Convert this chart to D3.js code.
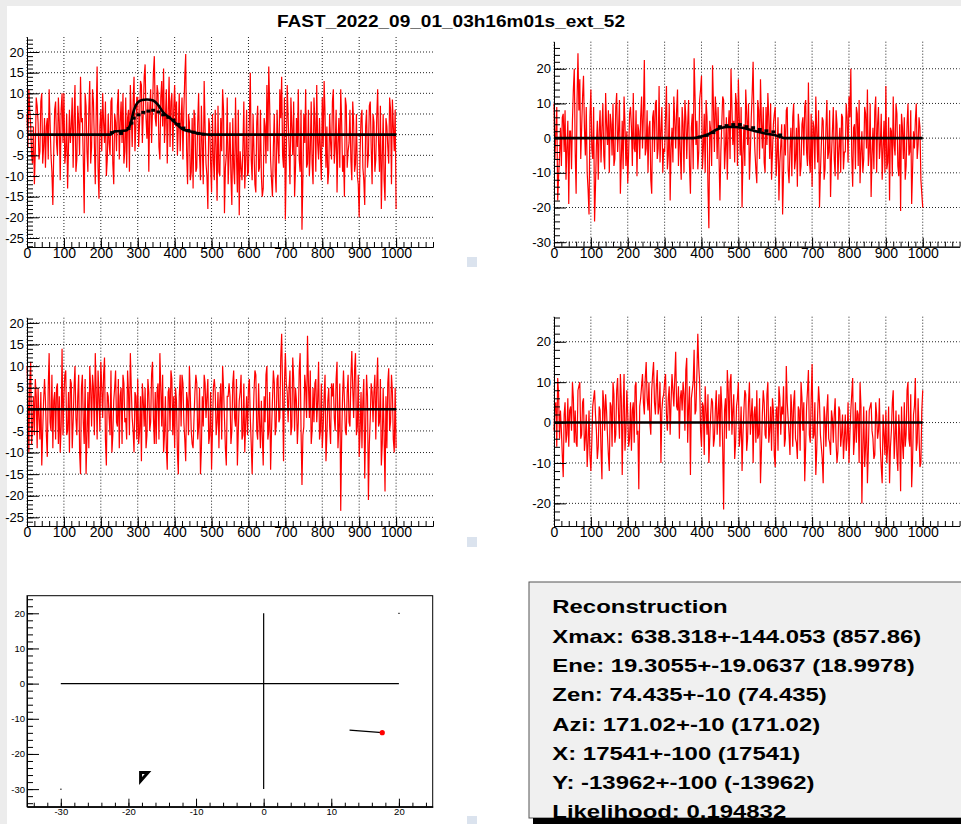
<!DOCTYPE html>
<html>
<head>
<meta charset="utf-8">
<script src="https://cdn.jsdelivr.net/npm/d3@7"></script>
<style>
  body { margin: 0; background: #fff; }
  svg { display: block; font-family: "Liberation Sans", Arial, sans-serif; }
  .grid { stroke: #222; stroke-width: 1; stroke-dasharray: 1,2; }
</style>
</head>
<body>
<div id="chart"></div>
<script>
// ---- data ----
const title = "FAST_2022_09_01_03h16m01s_ext_52";
const sampleStep = 2.5; // ns between samples once the two halves are interleaved
const xRange = [0, 1100];
const xTicks = [0, 100, 200, 300, 400, 500, 600, 700, 800, 900, 1000];

// channel traces (red): samples at 0,5,10..1000 ns
const wave1 = [
  5, 11, 2, -7, -12, 9, 3, -4, 10, -3,
  -8, 4, 11, -5, -17, 6, -2, 9, -11, 10,
  10, -4, -13, 6, 2, -8, 12, -6, 3, 14,
  4, -19, 7, -9, 13, -3, 8, -12, 16.5, -15.5,
  6, 10, -2, -10, 5, -5, 9, -12, 3, 7,
  -6, 8, 10, -4, -8, 6, 12, -3, 14, 2,
  9, 3, 12, 5, 17, -1, -9, 11, 6, 19,
  2, 10, -6, 13, 16, 4, -7, 14, 8, -4,
  12, 8, 2, -4, 9, 6, 19.5, -12, 3, -9,
  -13, 4, -8, 10, -11, -3, 13, -7, -18, 2,
  -14, -6, 6, -16, -9, 4, 11, -19, -5, -12,
  3, -17, -8, 9, -14, -19.5, -8, -3, -13, 6,
  -9, 15, -11, -4, -14, 7, -8, -10, -13, 2,
  12, 16.5, -6, -15, 5, -14, -2, 11, 14, -8,
  -20.5, 12, -3, 9, -5, -15, 4, 11, -9, -23,
  5, 11, -7, -10, 8, -12, 3, 12, -6, -4,
  9, 13, -8, -12, 5, -6, 11, -3, -14, 4,
  11, -9, -15, 7, -4, 6, -11, 3, -7, -10,
  -20, 4, -8, -17, 6, -5, 8, -12, 3, -6,
  11, -9, -18, 5, -16, 2, -7, 6, 8.5, -4,
  -18
];
// samples at 2.5,7.5..997.5 ns
const wave1Mid = [
  -3, 6, -5, 2, -4, 7, -6, 8, -7, 4,
  2, -6, 3, -9, -4, 8, -5, 3, 6, -2,
  -7, 5, -3, -2, 9, 4, -9, 7, -5, 3,
  -6, 10, -4, 6, -7, 11, -2, 5, -8, 2,
  -4, 3, 8, -6, -2, 8, -7, 5, -4, 11,
  3, -2, -7, 9, 4, -9, 5, 8, -4, 9,
  -3, 13, -2, 14, 4, 8, 6, -2, 15, 4,
  12, -3, 9, 2, -2, 11, 5, -3, 10, 6,
  2, -5, 10, 3, -6, 14, -4, 5, -11, 4,
  6, -9, 3, -5, 7, -12, 2, -10, 4, -7,
  5, -11, -3, 7, -10, -4, 6, -8, 9, -5,
  -10, 4, -12, -5, 6, -4, -11, 8, -6, -10,
  4, -6, 5, -12, 3, -9, 6, -15, 4, -7,
  -4, 7, -11, -3, -9, 6, -7, 4, -5, 9,
  -6, 4, -12, 2, 8, -8, -3, -6, 6, -10,
  -2, -8, 6, -4, -7, 9, -9, -2, 4, -11,
  -3, 5, 2, -9, -2, 8, -7, 6, -2, -8,
  3, -5, 9, -8, -2, -6, 8, -9, 5, -12,
  -4, 6, -11, 2, -8, 7, -3, 5, -9, 4,
  -2, 7, -6, -11, 4, -3, 9, -12, 2, 6
];
const wave2 = [
  10, 2, -18, -5, -8, 7, 8, -3, -19, 2,
  5, 20, -16, 24.5, 17, 3, 18, -5, -10, -22,
  14, -6, -24, -2, -12, 8, 3, -5, 13, -2,
  -10, 4, 10, -6, 13, 2, -16, 5, 12, -8,
  -13, 7, 3, 13, -4, -11, 2, 6, -3, 22.5,
  -3, -10, 5, -16, 8, 10, -6, 15, 2, -10,
  -4, 15, -5, -18, 3, 12, -3, 14, 6, -12,
  4, 11, -6, 11, -16, 7, 23, -2, -9, 11,
  18, -3, -10, 6, -26, 2, 21, -4, 7, 9,
  -18, 4, 11, -3, -12, 8, 20, -2, -7, 10,
  17, -5, -20, 4, 14, -2, -12, 6, 22, -4,
  -13, 8, 17, -3, -7, 9, 13, -6, -12, 4,
  9, -5, -18, -2, -22, 4, 8, -9, -3, -11,
  10, -6, -14, 3, -8, 6, 9, -4, 16, -10,
  -14, 3, 12, -7, -20, -2, 5, -9, 11, -4,
  -17, 2, -6, 8, -12, 3, 7, -9, -4, 6,
  12, 20, -14, 4, 9, -8, -13, 2, -6, 7,
  14, -4, -17, 3, 8, -10, 9, -2, -12, 5,
  15, -7, -18, 2, 12, -5, 7, -11, -21, 3,
  6, -8, 10, -4, -19, 2, 5, -6, 6, -12,
  -20
];
const wave2Mid = [
  -6, 9, -11, 3, 6, -4, -12, 5, 2, -9,
  14, -4, 11, 8, -6, 12, 3, 9, -15, 6,
  -3, 9, -14, 5, 2, -7, 10, -9, 4, 8,
  7, -5, -8, 9, -4, 11, -6, -9, 4, 2,
  -4, 9, -8, -3, 8, 4, -6, 12, 7, -5,
  8, 3, -12, 6, -4, 11, -3, -7, 9, -3,
  6, -9, 10, -3, -7, 5, 8, -8, -4, 9,
  -10, 6, 4, -8, 3, -9, 12, 5, -4, 14,
  -9, 7, 11, -14, 5, -8, 9, 12, -6, -5,
  -4, 12, -9, 6, 3, -6, 9, 5, 13, -8,
  6, 9, -5, -8, 7, 10, -4, 13, 3, -9,
  11, -6, 5, 9, -10, -2, 6, 10, -4, 7,
  -11, 6, -7, 4, -10, -5, 9, -13, 3, 6,
  -9, 3, 7, -11, 4, -5, 11, -8, -6, 7,
  5, -9, 2, 8, -10, 6, -12, 3, -6, 8,
  -5, 9, -11, 4, -3, -10, 6, -4, 10, -7,
  6, -5, 3, -9, 7, 11, -4, -10, 9, -3,
  -8, 10, -5, -9, 12, 4, -6, 7, -3, -10,
  -9, 6, 3, -11, -2, 10, -8, 4, 7, -6,
  -12, 4, -5, 8, -9, -3, 10, -2, 3, -16
];
const wave3 = [
  10, -10, 11, -4, -6, 3, 5, -7, -13, 2,
  2, -11, 13, -5, -9, 4, 5, -8, -10, 14,
  3, 9, -5, -10, 6, -3, 10, -6, 8, -15,
  8, -8, -15, 4, 10, -4, 5, 13, -7, 3,
  11, -2, 12, -13, 3, -6, -10, 2, 9, -4,
  -9, 5, 8, -3, -7, 4, 13, -2, -10, 3,
  7, -5, -12, 2, 5, -6, 4, -3, 11, -8,
  -8, 6, 13, -4, -10, 3, -14, 5, 9, -6,
  -9, 2, -15, 8, 8, -3, -12, 2, 10, -5,
  -9, 4, 6, -4, -15, 3, 8, -2, 7, -6,
  -14, 5, 4, -3, -9, 6, 10, -2, -13, 3,
  3, -5, 9, -4, -13, 2, 8, -6, -10, 3,
  5, -2, -15, 4, 8, -7, -3, 2, -13, -3,
  10, -5, -14, 2, 6, -4, 8, -2, 17.5, -12,
  13, 4, 5, -6, 12, -5, 2, -3, 13, -17.5,
  -4, 5, 17, -2, -8, 5, 6, -3, 11, -5,
  -9, 3, -12, 2, -4, 6, 6, -5, 11, -4,
  -23.5, 3, 2, -6, 8, -4, 13.5, -2, 13, -4,
  -11, 4, 2, -16, 8, -21, -2, 4, 4, -7,
  12, -3, -13, 5, -19, -9, 9.5, -3, 4, -10,
  -9
];
const wave3Mid = [
  4, 6, -8, 3, 7, -9, -2, 4, -5, 7,
  -6, 5, -3, 8, 2, -7, 6, 3, -4, -6,
  8, -6, 4, 7, -9, 5, -2, 3, -10, 5,
  -3, 7, -6, -9, 5, 8, -6, 4, 9, -5,
  5, 8, -7, 4, -2, 9, -6, 5, -3, 7,
  3, -8, 6, -2, 9, -6, 5, -5, 4, -7,
  -8, 3, 6, -4, -9, 7, -5, 8, -2, 4,
  4, -7, 5, 8, -6, -9, 4, -5, 7, 3,
  5, -10, 3, -4, 6, -7, 4, -6, 3, -8,
  -2, 8, -7, 5, -9, -4, 6, 3, -8, 4,
  -5, 7, -6, 4, 2, -7, 5, -9, 3, 6,
  -8, 6, -2, 7, -5, 4, -7, 6, -3, -6,
  7, -8, -4, 9, -5, 6, -9, -6, 3, 8,
  -7, 4, -5, 9, -6, 7, -3, 12, 4, 6,
  6, -3, 9, -4, 7, 5, -8, 9, -5, -6,
  8, -2, 6, 9, -5, -3, 7, 2, -7, 6,
  -4, 8, -6, 5, -8, 3, -2, 7, -9, 6,
  -7, 9, -5, 4, -3, 7, 5, 9, -6, 8,
  -5, -9, 7, -4, 3, -8, 6, -3, 8, 5,
  -4, 7, -8, -6, 3, 6, -5, 8, -7, 5
];
const wave4 = [
  -2, 5, 11, -4, -2, -13.5, 5, -3, -6, 4,
  10, -5, -5, 8, 10, -3, 6, -4, -11, 3,
  -12, 4, 8, -2, -6, 3, -14, 5, 7, -3,
  -12, 4, 10, -5, 8, 2, 12, -13, 12, -2,
  2, -4, -7, 5, 9, -3, -16.5, 6, 12, 2,
  15, 3, 0, 8, 15, 2, 13, 4, -10, 6,
  10, 2, 6, -3, 12, 4, 17.5, 3, -4, 8,
  10, -2, 16, 4, -13, 8, 18, 3, 22, 10,
  -6, 4, 9, -3, -10, 2, 5, -4, 8, 2,
  -6, 4, -21.5, 6, 13, -2, 12, 3, -9, 4,
  10, -3, -12, 3, 7, -4, 10, 2, -10, 4,
  8, -3, -15, 2, 5, -4, 10, -2, -7, 3,
  -11, 4, 9, -3, 2, -6, 14, 1, -8, 3,
  5, -4, -9, 3, 10, -2, -14.5, 4, 13, -5,
  14.5, -3, -13, 2, 5, -6, -15, 1, 3, -4,
  -8, 1, 2, -5, -7, 3, -3, -9, 2, -4,
  -10, 3, 11, -4, -5, 2, 10, -20, 4, -6,
  -15, 3, 5, -4, -8, 2, -2, -6, -15, -3,
  3, -6, -15, -2, 8, -4, -8, 2, -17, -5,
  5, -3, 10, -6, -16, 2, 11, -5, -3, -10,
  8
];
const wave4Mid = [
  4, -6, 7, 3, -8, 2, -5, 6, 3, -2,
  6, 3, -6, 9, -4, 5, -7, 2, -5, -8,
  -5, 6, 2, -9, 4, -7, 8, -2, 3, -8,
  5, -6, 7, -3, 11, -4, 6, 3, -7, 8,
  -6, 5, 3, -5, 10, -2, 4, 9, 5, 11,
  6, 10, -3, 12, 5, 9, 2, 10, 3, 7,
  12, -2, 9, 5, 8, 11, 4, 9, 6, 3,
  7, 13, -5, 9, 6, 10, 2, 12, 14, -2,
  5, -8, 3, 7, -4, 6, -6, 3, -3, 7,
  9, -6, 3, -4, 8, 10, -3, 7, -5, 6,
  -6, 4, -3, 8, -7, 5, -3, 6, 2, -5,
  -4, 6, -7, 8, -3, 7, -5, 4, 6, -8,
  3, -7, 6, 4, 9, -4, 5, -3, 7, -6,
  8, -5, 4, -7, 6, 5, -6, 8, -3, 6,
  -4, 5, -7, 9, -3, -9, 4, -6, 7, -5,
  3, -5, 6, -10, 4, -6, 2, -4, -7, 5,
  -3, 7, -8, 5, 3, -10, 4, -6, -11, 3,
  -7, 4, -2, -9, 5, -4, 6, -11, 2, -8,
  -10, 4, -6, 5, -9, 3, -12, -3, 4, -9,
  -6, 8, -4, 7, -9, 4, -7, 6, -11, 3
];

// fitted pulses (black line) and expected-signal markers
const fit1 = [[0, 0], [225, 0], [238, 0.8], [268, 1], [280, 2.5], [290, 6], [300, 7.8], [312, 8.4],
  [325, 8.5], [340, 8.3], [355, 7.2], [370, 5.3], [385, 4.2], [400, 3], [420, 1.4], [440, 0.8],
  [460, 0.4], [480, 0.1], [495, 0], [1000, 0]];
const fitPts1 = [[230, 0.5], [255, 0.3], [275, 1.5], [283, 2.8], [289, 4], [302, 4.8], [315, 5.4],
  [329, 5.7], [342, 5.9], [356, 5.5], [369, 4.8], [383, 4.2], [397, 3.5], [410, 2.5], [424, 1.6],
  [437, 1], [451, 0.6], [464, 0.3], [478, 0.1]];
const fit2 = [[0, 0], [375, 0], [400, 0.5], [420, 1.2], [440, 2.4], [455, 3], [470, 3.2], [490, 3.2],
  [510, 3], [530, 2.5], [550, 1.9], [575, 1.3], [600, 0.8], [615, 0.3], [625, 0], [1000, 0]];
const fitPts2 = [[396, 0.3], [414, 0.8], [432, 1.6], [450, 3.3], [468, 3.6], [486, 3.9], [504, 3.9],
  [522, 3.3], [540, 3], [558, 2.5], [576, 2.1], [595, 1.8], [613, 0.9]];
const fit3 = [[0, 0], [1000, 0]];
const fit4 = [[0, 0], [1000, 0]];

// y ranges of the four waveform pads
const yRanges = [[-27.18, 23.63], [-31.3, 27.8], [-27, 21.2], [-25.6, 26.2]];
const yMajorStep = [5, 10, 5, 10];
const yMinorStep = [1, 2, 1, 2];

// footprint map (km)
const mapRange = [-35, 25];
const mapTicks = [-30, -20, -10, 0, 10, 20];
const crossLines = [[[-30, 0], [20, 0]], [[0, 20], [0, -30]]];
const cornerPts = [[20, 20], [-30, -30]];
const trackLine = [[12.7, -13.2], [17.541, -13.962]];
const corePt = [17.541, -13.962];
const stationTri = [[-18.2, -25.3], [-17.1, -25.3], [-18.2, -27.7]];

const recoLines = [
  "Reconstruction",
  "Xmax: 638.318+-144.053 (857.86)",
  "Ene: 19.3055+-19.0637 (18.9978)",
  "Zen: 74.435+-10 (74.435)",
  "Azi: 171.02+-10 (171.02)",
  "X: 17541+-100 (17541)",
  "Y: -13962+-100 (-13962)",
  "Likelihood: 0.194832"
];

// put the on-grid and half-step samples back in time order
function interleave(a, b) {
  return d3.merge(a.map((v, j) => (j < b.length ? [v, b[j]] : [v])));
}
const waves = [interleave(wave1, wave1Mid), interleave(wave2, wave2Mid),
  interleave(wave3, wave3Mid), interleave(wave4, wave4Mid)];
const fits = [fit1, fit2, fit3, fit4];
const fitPts = [fitPts1, fitPts2, [], []];

// ---- layout ----
const W = 961, H = 824;
const pads = [
  { left: 27, right: 433, top: 37, bottom: 247 },
  { left: 554, right: 959.6, top: 41.7, bottom: 246.7 },
  { left: 27, right: 433, top: 317.7, bottom: 526 },
  { left: 554, right: 959.6, top: 316.7, bottom: 526 }
];

const svg = d3.select("#chart").append("svg").attr("width", W).attr("height", H);
svg.append("rect").attr("width", W).attr("height", H).attr("fill", "#fff");
svg.append("rect").attr("width", W).attr("height", 6).attr("fill", "#ececec");
svg.append("rect").attr("width", 7).attr("height", H).attr("fill", "#ececec");

svg.append("text")
  .attr("transform", "translate(451,27) scale(1.12,1)")
  .attr("text-anchor", "middle")
  .attr("font-weight", "bold")
  .attr("font-size", 17)
  .attr("fill", "#000")
  .text(title);

function styleAxis(sel, size) {
  sel.attr("font-family", null).attr("font-size", null);
  sel.selectAll("path, line").attr("stroke", "#000").attr("stroke-width", 1);
  sel.selectAll("text").attr("fill", "#000").style("font-size", size + "px");
}

function drawWave(i) {
  const p = pads[i];
  const x = d3.scaleLinear().domain(xRange).range([p.left, p.right]);
  const y = d3.scaleLinear().domain(yRanges[i]).range([p.bottom, p.top]);
  const g = svg.append("g");
  const [y0, y1] = yRanges[i];
  const yMaj = d3.range(Math.ceil(y0 / yMajorStep[i]) * yMajorStep[i], y1, yMajorStep[i]);
  const yMin = d3.range(Math.ceil(y0 / yMinorStep[i]) * yMinorStep[i], y1, yMinorStep[i]);
  const xMin = d3.range(0, xRange[1] + 1, 20);

  // grid
  g.selectAll(null).data(xTicks).enter().append("line").attr("class", "grid")
    .attr("x1", d => x(d)).attr("x2", d => x(d)).attr("y1", p.top).attr("y2", p.bottom);
  g.selectAll(null).data(yMaj).enter().append("line").attr("class", "grid")
    .attr("x1", p.left).attr("x2", p.right).attr("y1", d => y(d)).attr("y2", d => y(d));

  // trace
  const line = d3.line().x((d, j) => x(j * sampleStep)).y(d => y(d));
  g.append("path").datum(waves[i]).attr("d", line)
    .attr("fill", "none").attr("stroke", "#ff0000").attr("stroke-width", 1.2);

  // fit
  const fl = d3.line().x(d => x(d[0])).y(d => y(d[1])).curve(d3.curveMonotoneX);
  g.append("path").datum(fits[i]).attr("d", fl)
    .attr("fill", "none").attr("stroke", "#000").attr("stroke-width", 2.6);
  g.selectAll(null).data(fitPts[i]).enter().append("rect")
    .attr("x", d => x(d[0]) - 2).attr("y", d => y(d[1]) - 1.5)
    .attr("width", 4).attr("height", 3).attr("fill", "#000");

  // axes
  const fmt = d => String(d);
  g.append("g").attr("transform", `translate(${p.left},0)`)
    .call(d3.axisLeft(y).tickValues(yMin).tickSize(-6).tickSizeOuter(0).tickFormat(""))
    .call(styleAxis, 13);
  g.append("g").attr("transform", `translate(${p.left},0)`)
    .call(d3.axisLeft(y).tickValues(yMaj).tickSize(-12).tickSizeOuter(0).tickPadding(3).tickFormat(fmt))
    .call(styleAxis, 13);
  g.append("g").attr("transform", `translate(0,${p.bottom})`)
    .call(d3.axisBottom(x).tickValues(xMin).tickSize(-5).tickSizeOuter(0).tickFormat(""))
    .call(styleAxis, 14);
  g.append("g").attr("transform", `translate(0,${p.bottom})`)
    .call(d3.axisBottom(x).tickValues(xTicks).tickSize(-9).tickSizeOuter(0).tickPadding(1.5).tickFormat(fmt))
    .call(styleAxis, 14);
}
[0, 1, 2, 3].forEach(drawWave);

// ---- footprint map ----
const mp = { left: 27, right: 432.7, top: 595.7, bottom: 806.7 };
const sx = d3.scaleLinear().domain(mapRange).range([mp.left, mp.right]);
const sy = d3.scaleLinear().domain(mapRange).range([mp.bottom, mp.top]);
const mg = svg.append("g");
mg.append("rect").attr("x", mp.left).attr("y", mp.top)
  .attr("width", mp.right - mp.left).attr("height", mp.bottom - mp.top)
  .attr("fill", "#fff").attr("stroke", "#000").attr("stroke-width", 1);
const mapMinor = d3.range(-34, 25, 2);
const fmt = d => String(d);
mg.append("g").attr("transform", `translate(${mp.left},0)`)
  .call(d3.axisLeft(sy).tickValues(mapMinor).tickSize(-6).tickSizeOuter(0).tickFormat(""))
  .call(styleAxis, 9.5);
mg.append("g").attr("transform", `translate(${mp.left},0)`)
  .call(d3.axisLeft(sy).tickValues(mapTicks).tickSize(-12).tickSizeOuter(0).tickPadding(2).tickFormat(fmt))
  .call(styleAxis, 9.5);
mg.append("g").attr("transform", `translate(0,${mp.bottom})`)
  .call(d3.axisBottom(sx).tickValues(mapMinor).tickSize(-4).tickSizeOuter(0).tickFormat(""))
  .call(styleAxis, 9.5);
mg.append("g").attr("transform", `translate(0,${mp.bottom})`)
  .call(d3.axisBottom(sx).tickValues(mapTicks).tickSize(-8).tickSizeOuter(0).tickPadding(1.6).tickFormat(fmt))
  .call(styleAxis, 9.5);

const ml = d3.line().x(d => sx(d[0])).y(d => sy(d[1]));
mg.selectAll(null).data(crossLines).enter().append("path")
  .attr("d", ml).attr("stroke", "#000").attr("stroke-width", 1.2).attr("fill", "none");
mg.selectAll(null).data(cornerPts).enter().append("rect")
  .attr("x", d => sx(d[0]) - 0.5).attr("y", d => sy(d[1]) - 0.5)
  .attr("width", 1.2).attr("height", 1.2).attr("fill", "#000");
mg.append("path").datum(trackLine).attr("d", ml)
  .attr("stroke", "#000").attr("stroke-width", 1.3).attr("fill", "none");
mg.append("circle").attr("cx", sx(corePt[0])).attr("cy", sy(corePt[1])).attr("r", 2.6).attr("fill", "#ff0000");
mg.append("path").datum(stationTri).attr("d", d => ml(d) + "Z")
  .attr("fill", "#fff").attr("stroke", "#000").attr("stroke-width", 3).attr("stroke-linejoin", "miter");

// ---- reconstruction text box ----
svg.append("rect").attr("x", 529).attr("y", 582).attr("width", 440).attr("height", 236)
  .attr("fill", "#f0f0f0").attr("stroke", "#555").attr("stroke-width", 1);
svg.selectAll(null).data(recoLines).enter().append("text")
  .attr("transform", (d, i) => `translate(552.3,${613.3 + i * 29.3}) scale(1.33,1)`)
  .attr("font-weight", "bold").attr("font-size", 18).attr("fill", "#000")
  .text(d => d);
svg.append("rect").attr("x", 533).attr("y", 818).attr("width", 430).attr("height", 6).attr("fill", "#000");

// pad corner handles
[[467, 257], [467, 537], [467, 816]].forEach(([hx, hy]) => {
  svg.append("rect").attr("x", hx).attr("y", hy).attr("width", 10).attr("height", 10).attr("fill", "#dbe3ee");
});
</script>
</body>
</html>
